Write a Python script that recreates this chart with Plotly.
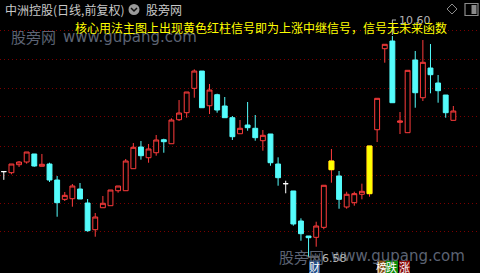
import plotly.graph_objects as go

# ---- data (prices) ----
opens = [8.130, 8.110, 8.256, 8.305, 8.451, 8.227, 8.268, 7.977, 7.625, 7.636,
         7.813, 7.558, 7.072, 7.472, 7.509, 7.782, 7.782, 8.183, 8.578, 8.383,
         8.474, 8.711, 8.638, 9.075, 9.203, 9.647, 9.962, 9.330, 9.531, 9.325,
         9.112, 8.820, 8.979, 8.919, 8.693, 8.815, 8.268, 7.910, 7.777, 7.230,
         6.957, 6.933, 7.115, 8.165, 8.050, 7.485, 7.564, 7.717, 7.728, 8.893,
         10.369, 10.509, 9.028, 8.839, 10.163, 9.476, 10.017, 9.744, 9.525, 9.064]
highs = [8.130, 8.268, 8.323, 8.487, 8.451, 8.451, 8.292, 8.050, 7.758, 7.904,
         7.922, 7.631, 7.376, 7.686, 7.795, 7.868, 8.360, 8.651, 8.687, 8.633,
         8.797, 8.729, 9.101, 9.434, 9.580, 9.993, 9.962, 9.726, 9.549, 9.489,
         9.143, 9.070, 9.398, 9.161, 8.888, 8.815, 8.390, 7.964, 7.777, 7.279,
         6.957, 7.217, 7.881, 8.542, 8.141, 7.764, 7.764, 7.910, 8.596, 9.465,
         10.449, 10.600, 9.216, 9.975, 10.327, 10.527, 10.454, 9.890, 9.525, 9.325]
lows = [7.980, 8.081, 8.214, 8.274, 8.219, 8.227, 7.941, 7.308, 7.594, 7.491,
        7.631, 7.035, 6.944, 7.472, 7.509, 7.746, 7.782, 8.183, 8.347, 8.292,
        8.420, 8.474, 8.638, 9.052, 9.112, 9.476, 9.294, 9.179, 9.203, 9.112,
        8.706, 8.820, 8.875, 8.693, 8.511, 8.237, 7.873, 7.735, 7.145, 6.871,
        6.580, 6.762, 7.079, 7.928, 7.454, 7.454, 7.509, 7.625, 7.673, 8.669,
        10.114, 9.385, 8.815, 8.839, 9.294, 9.416, 9.556, 9.385, 9.112, 9.064]
closes = [8.130, 8.268, 8.305, 8.487, 8.232, 8.263, 7.977, 7.564, 7.698, 7.868,
          7.631, 7.054, 7.303, 7.553, 7.795, 7.868, 8.323, 8.573, 8.420, 8.542,
          8.706, 8.675, 9.070, 9.197, 9.580, 9.962, 9.294, 9.616, 9.252, 9.112,
          8.766, 8.919, 8.930, 8.748, 8.791, 8.292, 8.019, 7.910, 7.176, 6.999,
          6.926, 7.139, 7.881, 8.323, 7.625, 7.717, 7.728, 7.771, 8.596, 9.465,
          10.449, 9.385, 9.052, 9.975, 9.567, 10.121, 9.895, 9.604, 9.203, 9.234]
signal_days = [43, 48]          # yellow "red column" signals
doji_days = [0, 37]             # flat (white) candles
grid_prices = [10.709, 10.181, 9.653, 9.125, 8.596, 8.068, 7.549, 7.030]
high_label = "10.60"
low_label = "6.58"
title_text = "中洲控股(日线,前复权)"
note_text = "核心用法主图上出现黄色红柱信号即为上涨中继信号，信号无未来函数"
watermark = "股旁网"
watermark_url = "www.gupang.com"

W, H = 480, 273
RED = "#ff3c3c"
CYAN = "#54fcfc"
YEL = "#ffff00"

def px(x):
    return x / W

def py(y):
    return 1 - y / H

idx = list(range(len(opens)))
normal = [i for i in idx if i not in doji_days]

fig = go.Figure()
fig.add_trace(go.Candlestick(
    x=[i for i in normal], open=[opens[i] for i in normal], high=[highs[i] for i in normal],
    low=[lows[i] for i in normal], close=[closes[i] for i in normal],
    increasing=dict(line=dict(color=RED, width=1), fillcolor="#000000"),
    decreasing=dict(line=dict(color=CYAN, width=1), fillcolor=CYAN),
    whiskerwidth=0, hoverinfo="skip"))
fig.add_trace(go.Candlestick(
    x=signal_days, open=[opens[i] for i in signal_days],
    high=[max(opens[i], closes[i]) for i in signal_days],
    low=[min(opens[i], closes[i]) for i in signal_days],
    close=[closes[i] for i in signal_days],
    increasing=dict(line=dict(color=YEL, width=1), fillcolor=YEL),
    decreasing=dict(line=dict(color=YEL, width=1), fillcolor=YEL),
    whiskerwidth=0, hoverinfo="skip"))
fig.add_trace(go.Candlestick(
    x=doji_days, open=[opens[i] for i in doji_days], high=[highs[i] for i in doji_days],
    low=[lows[i] for i in doji_days], close=[closes[i] for i in doji_days],
    increasing=dict(line=dict(color="#ffffff", width=1), fillcolor="#ffffff"),
    decreasing=dict(line=dict(color="#ffffff", width=1), fillcolor="#ffffff"),
    whiskerwidth=0, hoverinfo="skip"))

CJK = "Noto Sans CJK SC"
ann = []

def text(x, y, s, size, color, family=CJK, anchor="left"):
    ann.append(dict(x=px(x), y=py(y), xref="paper", yref="paper", text=s, showarrow=False,
                    xanchor=anchor, yanchor="middle", font=dict(family=family, size=size, color=color)))

# watermarks (drawn first so other text sits on top)
for (wx, wy) in [(9, 37), (277, 256)]:
    text(wx, wy, watermark, 15, "#5c6373")
    text(wx + 52, wy, watermark_url, 15, "#5c6373", family="DejaVu Sans")
text(3, 9.5, title_text, 12, "#c8c8c8")
text(144, 9.5, watermark, 12, "#c8c8c8")
# high / low labels
text(397, 21, high_label, 11, "#b4b4b4", family="DejaVu Sans")
text(320, 258, low_label, 11, "#b4b4b4", family="DejaVu Sans")
# note text
text(73, 27.5, note_text, 12, YEL)

shapes = []
# leader lines for high/low labels
shapes.append(dict(type="line", xref="x", yref="paper", x0=51, x1=51, y0=py(35), y1=py(20),
                   line=dict(color="#b4b4b4", width=1)))
shapes.append(dict(type="line", xref="paper", yref="paper", x0=px(392), x1=px(396), y0=py(20), y1=py(20),
                   line=dict(color="#b4b4b4", width=1)))
shapes.append(dict(type="line", xref="paper", yref="paper", x0=px(308), x1=px(319), y0=py(257), y1=py(257),
                   line=dict(color="#b4b4b4", width=1)))
# dropdown circle icon
shapes.append(dict(type="circle", xref="paper", yref="paper", x0=px(128.5), x1=px(139.5), y0=py(4), y1=py(15),
                   fillcolor="#9a9a9a", line=dict(width=0)))
shapes.append(dict(type="path", xref="paper", yref="paper",
                   path=f"M {px(131)} {py(8)} L {px(134)} {py(11)} L {px(137)} {py(8)}",
                   line=dict(color="#111111", width=1.5)))
# top-right icons
shapes.append(dict(type="path", xref="paper", yref="paper",
                   path=f"M {px(452)} {py(4)} L {px(457)} {py(9)} L {px(452)} {py(14)} L {px(447)} {py(9)} Z",
                   line=dict(color="#8a8a8a", width=1)))
shapes.append(dict(type="rect", xref="paper", yref="paper", x0=px(465), x1=px(478), y0=py(3.5), y1=py(15.5),
                   line=dict(color="#8a8a8a", width=1.2)))
shapes.append(dict(type="rect", xref="paper", yref="paper", x0=px(471.5), x1=px(476.5), y0=py(5), y1=py(14),
                   fillcolor="#8a8a8a", line=dict(width=0)))
# bottom marker boxes
for (x0, x1, col, ch) in [(309, 320, "#1e4a86", "财"), (377, 385.7, "#8a5216", "榜"),
                          (385.7, 398, "#0a8a0a", "跌"), (399, 410, "#8a0a0a", "涨")]:
    shapes.append(dict(type="rect", xref="paper", yref="paper", x0=px(x0), x1=px(x1), y0=py(260.5), y1=py(273),
                       fillcolor=col, line=dict(width=0), layer="above"))
    text((x0 + x1) / 2, 267, ch, 11, "#ffffff", anchor="center")

fig.update_layout(
    width=W, height=H, margin=dict(l=0, r=0, t=0, b=0),
    paper_bgcolor="#000000", plot_bgcolor="#000000", showlegend=False,
    boxgap=0.2, boxgroupgap=0.2,
    xaxis=dict(range=[-0.5, 62.5], visible=False, rangeslider=dict(visible=False), fixedrange=True),
    yaxis=dict(range=[6.283, 11.256], showticklabels=False, zeroline=False, showline=False,
               tickmode="array", tickvals=grid_prices, showgrid=True,
               gridcolor="#7a0000", gridwidth=1, griddash="1px,3px", fixedrange=True),
    annotations=ann, shapes=shapes,
)
fig.write_html("out.html")
